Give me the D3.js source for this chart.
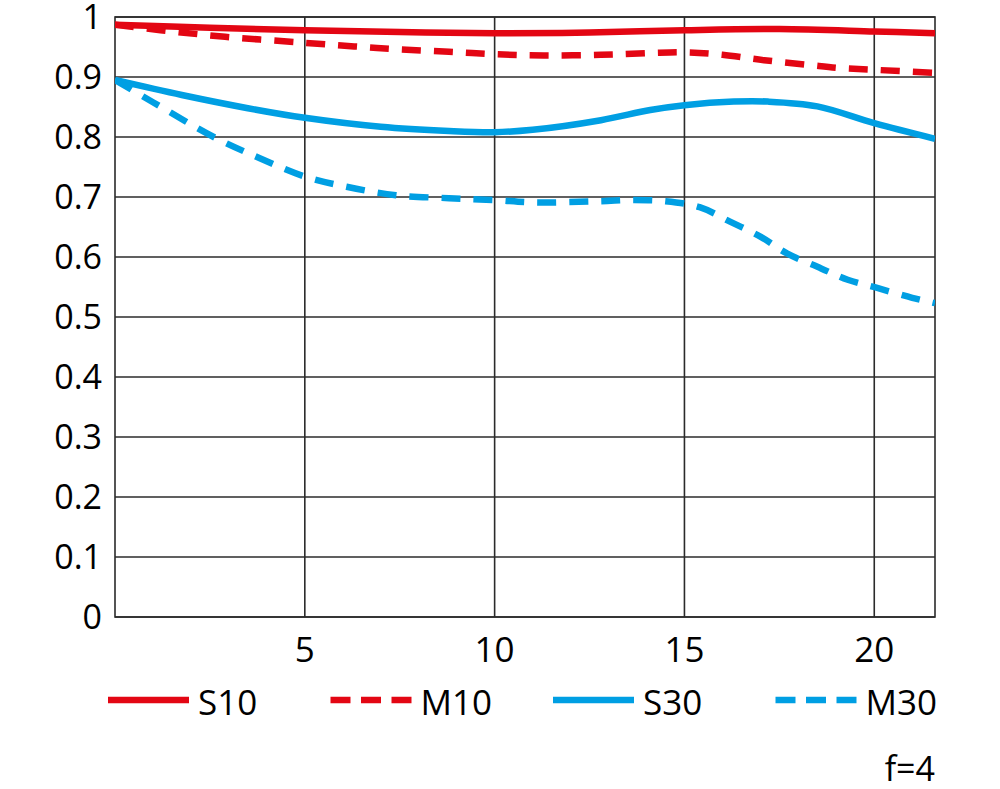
<!DOCTYPE html>
<html><head><meta charset="utf-8">
<script src="https://cdn.jsdelivr.net/npm/d3@7"></script>
<style>body{margin:0;background:#fff}svg{display:block}text{font-family:"Open Sans",sans-serif;fill:#000}</style>
</head><body>
<svg id="c" width="1000" height="789"></svg>
<script>
const xTicks = [5, 10, 15, 20];
const yTicks = [0, 0.1, 0.2, 0.3, 0.4, 0.5, 0.6, 0.7, 0.8, 0.9, 1];
const yTickLabels = ["0","0.1","0.2","0.3","0.4","0.5","0.6","0.7","0.8","0.9","1"];

const s10X = [0, 2.5, 5, 7.5, 10, 12.5, 15, 17.5, 20, 21.6];
const s10Y = [0.987, 0.982, 0.978, 0.975, 0.973, 0.974, 0.978, 0.980, 0.976, 0.973];

const m10X = [0, 1.2, 2.9, 5, 6.3, 7.5, 8.8, 10, 11.3, 12.8, 14.1, 15.1, 16.0, 17.1, 18.3, 19.1, 20, 21.6];
const m10Y = [0.987, 0.978, 0.967, 0.957, 0.951, 0.946, 0.942, 0.938, 0.936, 0.937, 0.940, 0.941, 0.937, 0.928, 0.920, 0.915, 0.912, 0.907];

const s30X = [0, 1.76, 3.5, 5, 7, 8.8, 10, 11, 12.8, 14.1, 15, 16.3, 17.2, 18.5, 20, 21.6];
const s30Y = [0.895, 0.870, 0.848, 0.832, 0.817, 0.810, 0.808, 0.812, 0.828, 0.845, 0.853, 0.859, 0.859, 0.851, 0.823, 0.797];

const m30X = [0, 1.0, 2.6, 3.8, 5, 6.1, 7.4, 8.8, 10, 11, 12.8, 13.6, 14.5, 15.4, 16.2, 17, 17.7, 18.6, 19.3, 20.1, 21, 21.6];
const m30Y = [0.895, 0.858, 0.800, 0.765, 0.734, 0.717, 0.703, 0.698, 0.695, 0.691, 0.693, 0.695, 0.693, 0.683, 0.659, 0.634, 0.606, 0.581, 0.562, 0.548, 0.532, 0.523];

const seriesNames = ["S10", "M10", "S30", "M30"];
const footnote = "f=4";

const RED = "#e30613", BLUE = "#009fe3";
const series = [
  {name: seriesNames[0], xs: s10X, ys: s10Y, color: RED, dashed: false},
  {name: seriesNames[1], xs: m10X, ys: m10Y, color: RED, dashed: true},
  {name: seriesNames[2], xs: s30X, ys: s30Y, color: BLUE, dashed: false},
  {name: seriesNames[3], xs: m30X, ys: m30Y, color: BLUE, dashed: true}
];

const L = 115, R = 935, T = 17, B = 617;
const x = d3.scaleLinear().domain([0, 21.6]).range([L, R]);
const y = d3.scaleLinear().domain([0, 1]).range([B, T]);

const svg = d3.select("#c");
const grid = "#2b2b2b";

svg.append("defs").append("clipPath").attr("id","clip")
  .append("rect").attr("x", L).attr("y", T).attr("width", R-L).attr("height", B-T);

// grid
svg.append("g").selectAll("line").data(yTicks).join("line")
  .attr("x1", L).attr("x2", R).attr("y1", d=>y(d)).attr("y2", d=>y(d))
  .attr("stroke", grid).attr("stroke-width", 1.6);
svg.append("g").selectAll("line").data(xTicks).join("line")
  .attr("x1", d=>x(d)).attr("x2", d=>x(d)).attr("y1", T).attr("y2", B)
  .attr("stroke", grid).attr("stroke-width", 1.6);
svg.append("rect").attr("x", L).attr("y", T).attr("width", R-L).attr("height", B-T)
  .attr("fill","none").attr("stroke", grid).attr("stroke-width", 1.6);

// tick labels
svg.append("g").selectAll("text").data(yTicks).join("text")
  .attr("x", 102).attr("y", d=>y(d)+12)
  .attr("text-anchor","end").attr("font-size", 34)
  .text((d,i)=>yTickLabels[i]);
svg.append("g").selectAll("text").data(xTicks).join("text")
  .attr("x", d=>x(d)).attr("y", 662)
  .attr("text-anchor","middle").attr("font-size", 35)
  .text(d=>d);

// lines
const line = d3.line().x(d=>x(d[0])).y(d=>y(d[1])).curve(d3.curveCatmullRom.alpha(0.5));
svg.append("g").attr("clip-path","url(#clip)").selectAll("path").data(series).join("path")
  .attr("d", s => line(s.xs.map((v,i)=>[v, s.ys[i]])))
  .attr("fill","none").attr("stroke", s=>s.color).attr("stroke-width", 6.5)
  .attr("stroke-dasharray", s=> s.dashed ? "19,13" : null);

// legend
const lg = svg.append("g");
series.forEach((s,i)=>{
  const x0 = 108 + i*222.5;
  lg.append("line").attr("x1", x0).attr("x2", x0+81).attr("y1", 700).attr("y2", 700)
    .attr("stroke", s.color).attr("stroke-width", 6.5)
    .attr("stroke-dasharray", s.dashed ? "20,10.5" : null);
  lg.append("text").attr("x", x0+90).attr("y", 715).attr("font-size", 35).text(s.name);
});

svg.append("text").attr("x", R).attr("y", 781).attr("text-anchor","end").attr("font-size", 34).text(footnote);
</script>
</body></html>
